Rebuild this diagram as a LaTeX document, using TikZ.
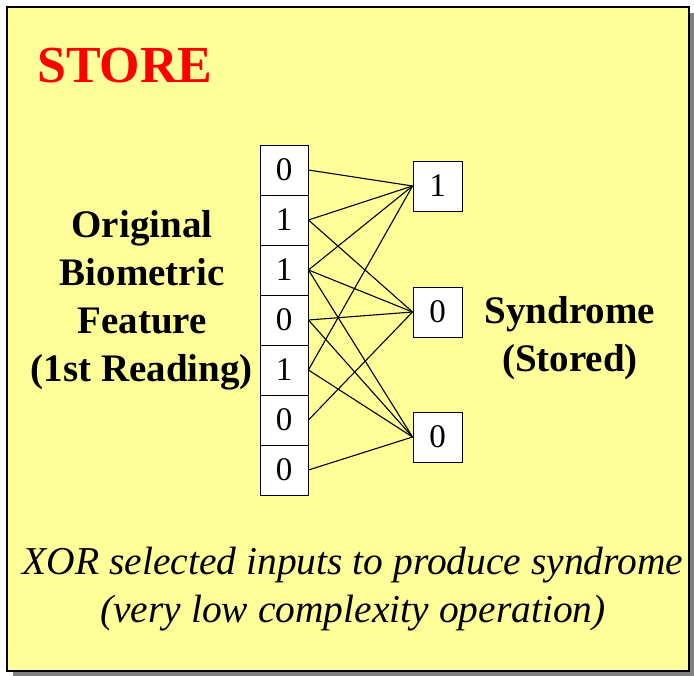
\documentclass[tikz,border=0pt]{standalone}
\usepackage{fontspec}
\setmainfont{Liberation Serif}
\definecolor{slideyellow}{RGB}{255,255,153}
\definecolor{shadowgray}{RGB}{128,128,128}
\tikzset{
  bitcell/.style={draw=black, line width=0.9pt, fill=white, minimum width=48pt,
    minimum height=50pt, inner sep=0pt, font=\fontsize{33}{33}\selectfont},
  synbox/.style={draw=black, line width=0.9pt, fill=white, minimum width=49pt,
    minimum height=50pt, inner sep=0pt, font=\fontsize{33}{33}\selectfont},
  link/.style={draw=black, line width=1.1pt},
  boldlabel/.style={align=center, inner sep=0pt,
    font=\bfseries\fontsize{39}{48}\selectfont},
  notelabel/.style={align=center, inner sep=0pt,
    font=\itshape\fontsize{39.5}{47.5}\selectfont}
}
\begin{document}
\begin{tikzpicture}[x=1pt,y=-1pt]
  \useasboundingbox (0,0) rectangle (694,676);
  % slide frame with drop shadow
  \fill[shadowgray] (13,13) rectangle (694,676);
  \draw[fill=slideyellow, line width=1.5pt] (7,7) rectangle (689,671);

  % title
  \node[anchor=base west, inner sep=0pt, text=red,
    font=\bfseries\fontsize{52}{52}\selectfont] (title) at (37,83) {STORE};

  % feature bits
  \node[bitcell] (b0) at (284,170) {0};
  \node[bitcell] (b1) at (284,220) {1};
  \node[bitcell] (b2) at (284,270) {1};
  \node[bitcell] (b3) at (284,320) {0};
  \node[bitcell] (b4) at (284,370) {1};
  \node[bitcell] (b5) at (284,420) {0};
  \node[bitcell] (b6) at (284,470) {0};

  % syndrome bits
  \node[synbox] (s0) at (437.5,186) {1};
  \node[synbox] (s1) at (437.5,312) {0};
  \node[synbox] (s2) at (437.5,437) {0};

  % XOR connections
  \foreach \b in {b0,b1,b2,b4} \draw[link] (\b.east) -- (s0.west);
  \foreach \b in {b1,b2,b3,b5} \draw[link] (\b.east) -- (s1.west);
  \foreach \b in {b2,b3,b4,b6} \draw[link] (\b.east) -- (s2.west);

  % labels
  \node[boldlabel] (feat) at (142,300) {Original\\Biometric\\Feature\\(1st Reading)};
  \node[boldlabel] (synd) at (570,338) {Syndrome\\(Stored)};
  \node[notelabel] (note) at (353,589) {XOR selected inputs to produce syndrome\\(very low complexity operation)};
\end{tikzpicture}
\end{document}
